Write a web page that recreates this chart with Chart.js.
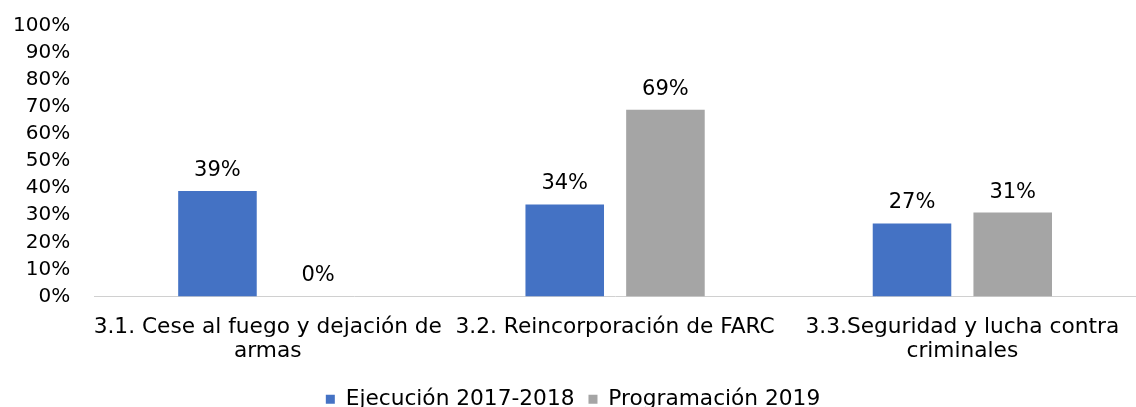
<!DOCTYPE html>
<html>
<head>
<meta charset="utf-8">
<script src="https://cdn.jsdelivr.net/npm/chart.js@4"></script>
<style>
  html, body { margin: 0; padding: 0; background: #fff; }
  #wrap { width: 1136px; height: 407px; }
</style>
</head>
<body>
<div id="wrap"><canvas id="grafico"></canvas></div>
<script>
// Datos del gráfico
const categorias = [
    ['3.1. Cese al fuego y dejación de', 'armas'],
    ['3.2. Reincorporación de FARC'],
    ['3.3.Seguridad y lucha contra', 'criminales']
];
const ejecucion = [39, 34, 27];
const programacion = [0, 69, 31];
const series = ['Ejecución 2017-2018', 'Programación 2019'];

const fuente = '"DejaVu Sans", Verdana, sans-serif';
Chart.defaults.font.family = fuente;
Chart.defaults.color = '#000';

// Etiquetas de valor sobre las barras
const etiquetas = {
    id: 'etiquetas',
    afterDatasetsDraw(chart) {
        const ctx = chart.ctx;
        ctx.save();
        ctx.font = '21px ' + fuente;
        ctx.fillStyle = '#000';
        ctx.textAlign = 'center';
        ctx.textBaseline = 'bottom';
        chart.data.datasets.forEach((ds, i) => {
            chart.getDatasetMeta(i).data.forEach((bar, j) => {
                ctx.fillText(ds.data[j] + '%', bar.x, bar.y - 10);
            });
        });
        ctx.restore();
    }
};

const ctx = document.getElementById('grafico').getContext('2d');
new Chart(ctx, {
    type: 'bar',
    data: {
        labels: categorias,
        datasets: [
            { label: series[0], data: ejecucion, backgroundColor: '#4472c4' },
            { label: series[1], data: programacion, backgroundColor: '#a5a5a5' }
        ]
    },
    options: {
        responsive: true,
        maintainAspectRatio: false,
        animation: false,
        categoryPercentage: 0.58,
        barPercentage: 0.78,
        layout: { padding: { top: 0, right: -13, left: -3, bottom: -13 } },
        scales: {
            y: {
                min: 0,
                max: 100,
                ticks: {
                    stepSize: 10,
                    autoSkip: false,
                    padding: 16,
                    font: { size: 20, lineHeight: 1 },
                    callback: v => v + '%'
                },
                grid: { display: false },
                border: { display: false }
            },
            x: {
                ticks: { font: { size: 21.7, lineHeight: 1.15 }, padding: 10, maxRotation: 0, autoSkip: false },
                grid: { display: false },
                border: { color: '#d0d0d0', width: 1 }
            }
        },
        plugins: {
            legend: {
                position: 'bottom',
                labels: {
                    boxWidth: 9,
                    boxHeight: 9,
                    padding: 14,
                    font: { size: 21.7 }
                }
            },
            tooltip: { enabled: false }
        }
    },
    plugins: [etiquetas]
});
</script>
</body>
</html>
